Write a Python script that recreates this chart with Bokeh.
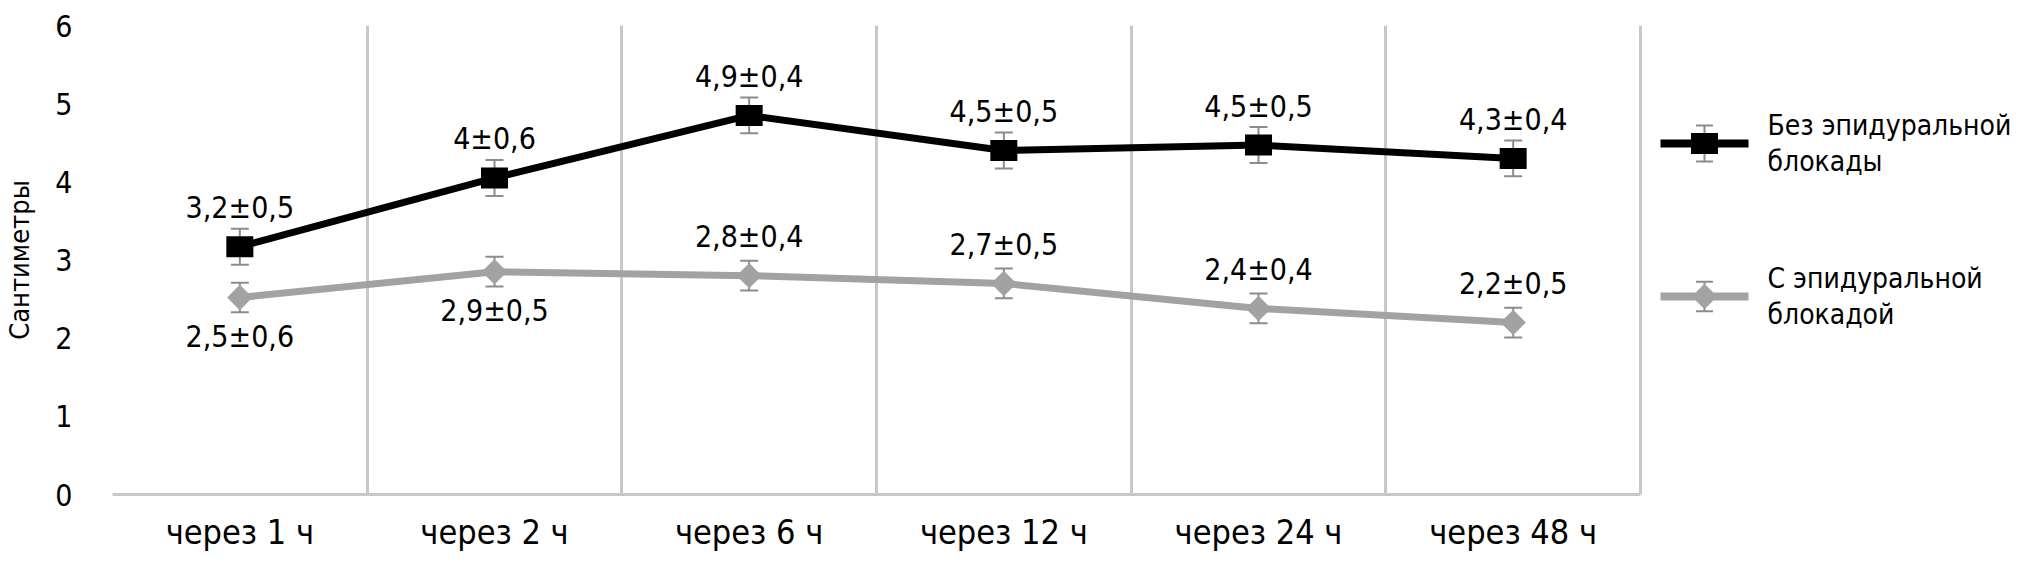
import numpy as np
from bokeh.plotting import figure
from bokeh.models import ColumnDataSource, Range1d, FixedTicker, Whisker, TeeHead
from bokeh.core.properties import value
from bokeh.embed import file_html
from bokeh.resources import INLINE

# ---------------- data ----------------
categories = ["через 1 ч", "через 2 ч", "через 6 ч", "через 12 ч", "через 24 ч", "через 48 ч"]
series_names = ["Без эпидуральной блокады", "С эпидуральной блокадой"]

without_block = [3.17, 4.05, 4.85, 4.40, 4.47, 4.30]
without_err = [0.23, 0.23, 0.23, 0.23, 0.23, 0.23]
without_labels = ["3,2±0,5", "4±0,6", "4,9±0,4", "4,5±0,5", "4,5±0,5", "4,3±0,4"]
without_label_side = ["above", "above", "above", "above", "above", "above"]

with_block = [2.52, 2.85, 2.80, 2.70, 2.38, 2.20]
with_err = [0.19, 0.19, 0.19, 0.19, 0.19, 0.19]
with_labels = ["2,5±0,6", "2,9±0,5", "2,8±0,4", "2,7±0,5", "2,4±0,4", "2,2±0,5"]
with_label_side = ["below", "below", "above", "above", "above", "above"]

y_ticks = [0, 1, 2, 3, 4, 5, 6]
y_title = "Сантиметры"

# ---------------- style / layout ----------------
FONT = "DejaVu Sans Condensed, Roboto, sans-serif"
BLACK = "#000000"
GRAY = "#a2a2a2"
ERR = "#8c8c8c"
GRID = "#c8c8c8"
LABEL_OFF = 39

W, H = 2020, 562
FRAME_L, FRAME_T, FRAME_B = 112, 25, 494      # canvas pixels
DATA_R = 1640                                  # canvas pixel of the last category boundary
n = len(categories)
YMAX = 6
px_x = (DATA_R - FRAME_L) / n                  # pixels per category
px_y = (FRAME_B - FRAME_T) / YMAX              # pixels per centimetre
x_end = n + (W - DATA_R) / px_x                # frame continues right, legend lives there


def lx(cx):  # canvas pixel -> data x (legend area only)
    return n + (cx - DATA_R) / px_x


def ly(cy):  # canvas pixel -> data y (legend area only)
    return (FRAME_B - cy) / px_y


xs = [i + 0.5 for i in range(n)]

p = figure(width=W, height=H, x_range=Range1d(0, x_end), y_range=Range1d(0, YMAX),
           output_backend="svg", toolbar_location=None,
           min_border_left=FRAME_L, min_border_right=0,
           min_border_top=FRAME_T, min_border_bottom=H - FRAME_B)
p.outline_line_color = None
p.background_fill_color = "white"
p.border_fill_color = "white"

# grid: vertical category boundaries only
p.ygrid.visible = False
p.xgrid.ticker = FixedTicker(ticks=list(range(n + 1)))
p.xgrid.grid_line_color = GRID
p.xgrid.grid_line_width = 3

# x axis
p.xaxis.bounds = (0, n)
p.xaxis.ticker = FixedTicker(ticks=xs)
p.xaxis.major_label_overrides = {x: c for x, c in zip(xs, categories)}
p.xaxis.axis_line_color = GRID
p.xaxis.axis_line_width = 3
p.xaxis.major_tick_line_color = None
p.xaxis.minor_tick_line_color = None
p.xaxis.major_label_text_font = FONT
p.xaxis.major_label_text_font_size = "34px"
p.xaxis.major_label_text_color = "black"
p.xaxis.major_label_standoff = 11

# y axis
p.yaxis.ticker = FixedTicker(ticks=y_ticks)
p.yaxis.axis_line_color = None
p.yaxis.major_tick_line_color = None
p.yaxis.minor_tick_line_color = None
p.yaxis.major_tick_out = 0
p.yaxis.major_tick_in = 0
p.yaxis.major_label_text_font = FONT
p.yaxis.major_label_text_font_size = "30px"
p.yaxis.major_label_text_color = "black"
p.yaxis.major_label_standoff = 40
p.yaxis.axis_label = y_title
p.yaxis.axis_label_text_font = FONT
p.yaxis.axis_label_text_font_size = "27px"
p.yaxis.axis_label_text_font_style = "normal"
p.yaxis.axis_label_text_color = "black"
p.yaxis.axis_label_standoff = 17

series = [
    (without_block, without_err, without_labels, without_label_side, BLACK, "rect", 143),
    (with_block, with_err, with_labels, with_label_side, GRAY, "diamond", 296),
]


def add_marker(src, color, mk):
    if mk == "rect":
        p.rect("x", "y", width=27, height=21, width_units="screen", height_units="screen",
               source=src, fill_color=color, line_color=None)
    else:
        p.scatter("x", "y", source=src, marker="square", size=18, angle=np.pi / 4,
                  fill_color=color, line_color=None)


def add_whisker(src, size):
    w = Whisker(source=src, base="x", upper="up", lower="lo", level="underlay",
                line_color=ERR, line_width=2,
                upper_head=TeeHead(size=size, line_color=ERR, line_width=2),
                lower_head=TeeHead(size=size, line_color=ERR, line_width=2))
    p.add_layout(w)


for (vals, errs, labels, sides, color, mk, leg_y), name in zip(series, series_names):
    src = ColumnDataSource(dict(
        x=xs, y=vals,
        up=[v + e for v, e in zip(vals, errs)],
        lo=[v - e for v, e in zip(vals, errs)],
        lab=labels,
        yoff=[-LABEL_OFF if s == "above" else LABEL_OFF for s in sides],
    ))
    add_whisker(src, 18)
    p.line("x", "y", source=src, line_color=color, line_width=7)
    add_marker(src, color, mk)
    p.text("x", "y", text="lab", source=src, y_offset="yoff",
           text_align="center", text_baseline="middle",
           text_font=value(FONT), text_font_size="30px", text_color="black")

    # ----- legend entry (drawn in the area right of the categories) -----
    cy = ly(leg_y)
    lsrc = ColumnDataSource(dict(x=[lx(1704)], y=[cy], up=[cy + errs[0]], lo=[cy - errs[0]]))
    add_whisker(lsrc, 17)
    p.line([lx(1660), lx(1748)], [cy, cy], line_color=color, line_width=8)
    add_marker(lsrc, color, mk)
    lines = name.rsplit(" ", 1)
    p.text(x=[lx(1767)] * 2, y=[cy, cy], y_offset=[-18, 18], text=lines,
           text_align="left", text_baseline="middle",
           text_font=value(FONT), text_font_size="28px", text_color="black")

open("out.html", "w").write(file_html(p, INLINE))
